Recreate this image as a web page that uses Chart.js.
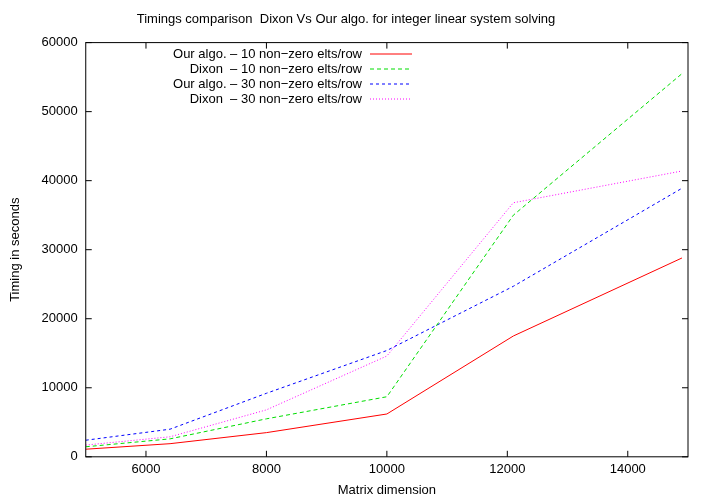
<!DOCTYPE html>
<html><head><meta charset="utf-8">
<script src="https://cdn.jsdelivr.net/npm/chart.js@4"></script>
<style>body{margin:0;background:#fff}#w{width:712px;height:498px}</style>
</head><body><div id="w"><canvas id="c"></canvas></div>
<script>
// values
const dims = [5000, 6400, 8000, 10000, 12100, 14900];
const ourAlgo10 = [1100, 1900, 3500, 6200, 17500, 28800];
const dixon10 = [1450, 2600, 5500, 8700, 35000, 55500];
const ourAlgo30 = [2400, 4000, 9200, 15400, 24700, 38900];
const dixon30 = [1700, 2900, 6800, 14600, 36800, 41400];
const xTicks = [6000, 8000, 10000, 12000, 14000];
const yTicks = [0, 10000, 20000, 30000, 40000, 50000, 60000];

const FONT = "Liberation Sans";
const pts = arr => arr.map((v,i)=>({x:dims[i], y:v}));
const mk = (label, arr, color, dash) => ({label, data:pts(arr), borderColor:color, borderWidth:1, borderDash:dash, pointRadius:0, fill:false, tension:0});

// gnuplot-like legend: text right-aligned, sample line to the right
const gnuLegend = {
  id:"gnuLegend",
  afterDraw(chart){
    const ctx = chart.ctx;
    ctx.save();
    ctx.font = "13px " + FONT;
    ctx.textAlign = "right"; ctx.textBaseline = "middle";
    chart.data.datasets.forEach((ds,i)=>{
      const y = 54 + i*15;
      ctx.fillStyle = "#000";
      ctx.fillText(ds.label, 362, y);
      ctx.strokeStyle = ds.borderColor; ctx.lineWidth = 1;
      ctx.setLineDash(ds.borderDash || []);
      ctx.beginPath(); ctx.moveTo(370, y); ctx.lineTo(412, y); ctx.stroke();
    });
    // frame and inward ticks
    const a = chart.chartArea;
    ctx.setLineDash([]); ctx.strokeStyle = "#000";
    ctx.strokeRect(a.left, a.top, a.right-a.left, a.bottom-a.top);
    const xs = chart.scales.x, ys = chart.scales.y;
    ctx.beginPath();
    xTicks.forEach(t=>{ const p = xs.getPixelForValue(t); ctx.moveTo(p,a.bottom); ctx.lineTo(p,a.bottom-6); ctx.moveTo(p,a.top); ctx.lineTo(p,a.top+6); });
    yTicks.forEach(t=>{ const p = ys.getPixelForValue(t); ctx.moveTo(a.left,p); ctx.lineTo(a.left+6,p); ctx.moveTo(a.right,p); ctx.lineTo(a.right-6,p); });
    ctx.stroke();
    ctx.restore();
  }
};

new Chart(document.getElementById("c"), {
  type:"line",
  data:{ datasets:[
    mk("Our algo. \u2013 10 non\u2212zero elts/row", ourAlgo10, "#ff0000", []),
    mk("Dixon  \u2013 10 non\u2212zero elts/row", dixon10, "#00dd00", [4,3]),
    mk("Our algo. \u2013 30 non\u2212zero elts/row", ourAlgo30, "#0000ff", [3,3]),
    mk("Dixon  \u2013 30 non\u2212zero elts/row", dixon30, "#ff00ff", [1,2])
  ]},
  options:{
    responsive:true, maintainAspectRatio:false, animation:false,
    layout:{ padding:{ top:6, right:24, left:4, bottom:0 } },
    plugins:{
      legend:{ display:false }, tooltip:{ enabled:false },
      title:{ display:true, text:"Timings comparison  Dixon Vs Our algo. for integer linear system solving", color:"#000", font:{ family:FONT, size:13, weight:"normal" }, padding:{ top:6, bottom:15 } }
    },
    scales:{
      x:{ type:"linear", min:5000, max:15000,
        afterBuildTicks: s => { s.ticks = xTicks.map(v=>({value:v})); },
        grid:{ display:false, drawTicks:false }, border:{ display:false },
        ticks:{ color:"#000", font:{ family:FONT, size:13 }, padding:5, callback: v => String(v) },
        title:{ display:true, text:"Matrix dimension", color:"#000", font:{ family:FONT, size:13 }, padding:{ top:0, bottom:0 } } },
      y:{ min:0, max:60000,
        afterBuildTicks: s => { s.ticks = yTicks.map(v=>({value:v})); },
        grid:{ display:false, drawTicks:false }, border:{ display:false },
        ticks:{ color:"#000", font:{ family:FONT, size:13 }, padding:8, callback: v => String(v) },
        title:{ display:true, text:"Timing in seconds", color:"#000", font:{ family:FONT, size:13 }, padding:{ bottom:10 } } }
    }
  },
  plugins:[gnuLegend]
});
</script></body></html>
